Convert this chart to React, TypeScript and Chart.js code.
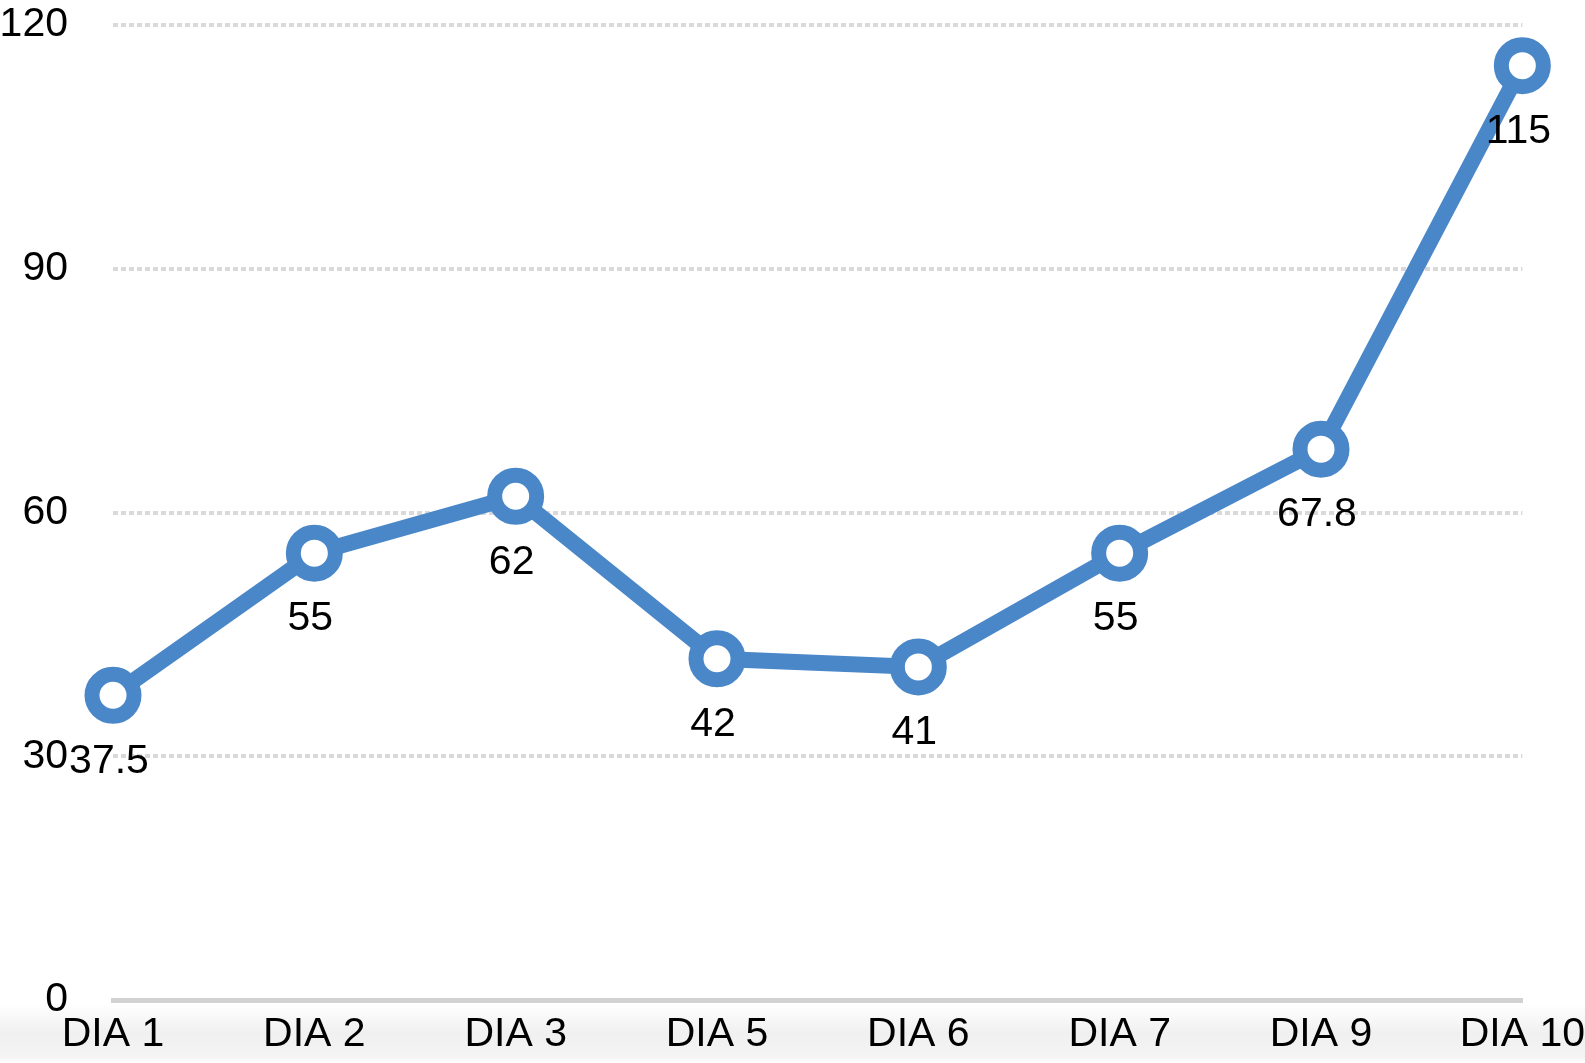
import React, { useEffect, useRef } from "react";
import { Chart, registerables } from "chart.js";

Chart.register(...registerables);

const categories = ["DIA 1", "DIA 2", "DIA 3", "DIA 5", "DIA 6", "DIA 7", "DIA 9", "DIA 10"];
const values = [37.5, 55, 62, 42, 41, 55, 67.8, 115];
const valueLabels = ["37.5", "55", "62", "42", "41", "55", "67.8", "115"];
const yTicks = [0, 30, 60, 90, 120];

const FONT = "'Liberation Sans', Arial, Helvetica, sans-serif";
const BLUE = "#4a87c9";
const CLEAR = "rgba(0,0,0,0)";

const dataLabelPlugin = {
  id: "dataLabels",
  afterDatasetsDraw(chart: any) {
    const ctx = chart.ctx;
    const meta = chart.getDatasetMeta(0);
    ctx.save();
    ctx.font = `41px ${FONT}`;
    ctx.fillStyle = "#000";
    ctx.textAlign = "center";
    ctx.textBaseline = "middle";
    meta.data.forEach((pt: any, i: number) => {
      ctx.fillText(valueLabels[i], pt.x - 4, pt.y + 66);
    });
    ctx.restore();
  },
};

const bgPlugin = {
  id: "bg",
  beforeDraw(chart: any) {
    const ctx = chart.ctx;
    const w = chart.width;
    const h = chart.height;
    ctx.save();
    ctx.fillStyle = "#ffffff";
    ctx.fillRect(0, 0, w, h);
    const g = ctx.createLinearGradient(0, 1003, 0, 1063);
    g.addColorStop(0, "rgba(240,240,240,0)");
    g.addColorStop(0.5, "rgba(240,240,240,1)");
    g.addColorStop(0.9, "rgba(244,244,244,1)");
    g.addColorStop(1, "rgba(255,255,255,1)");
    ctx.fillStyle = g;
    ctx.fillRect(0, 1003, w, 60);
    ctx.restore();
  },
};

export default function App() {
  const ref = useRef<HTMLCanvasElement | null>(null);

  useEffect(() => {
    if (!ref.current) return;
    const chart = new Chart(ref.current, {
      type: "line",
      data: {
        labels: categories,
        datasets: [
          {
            data: values,
            borderColor: BLUE,
            borderWidth: 16,
            pointRadius: 21,
            pointBorderWidth: 15,
            pointBackgroundColor: "#ffffff",
            pointBorderColor: BLUE,
            tension: 0,
            clip: false as any,
          },
        ],
      },
      options: {
        animation: false,
        responsive: true,
        maintainAspectRatio: false,
        layout: { autoPadding: false, padding: { top: 25, right: 61, bottom: 0, left: 0 } },
        plugins: {
          legend: { display: false },
          tooltip: { enabled: false },
        },
        scales: {
          x: {
            offset: false,
            grid: {
              display: true,
              drawOnChartArea: false,
              drawTicks: true,
              tickLength: 10,
              tickColor: CLEAR,
              color: CLEAR,
            },
            border: { display: true, color: "#d2d2d2", width: 5 },
            ticks: {
              color: "#000",
              font: { family: FONT, size: 41 },
              padding: 0,
              maxRotation: 0,
              autoSkip: false,
            },
            afterFit: (scale: any) => {
              scale.height = 63;
            },
          },
          y: {
            min: 0,
            max: 120,
            afterBuildTicks: (scale: any) => {
              scale.ticks = yTicks.map((v) => ({ value: v }));
            },
            grid: {
              color: (c: any) => (c.tick && c.tick.value === 0 ? CLEAR : "#d9d9d9"),
              lineWidth: 4,
              drawTicks: true,
              tickLength: 45,
              tickColor: CLEAR,
            },
            border: { display: false, dash: [5, 3] },
            ticks: {
              color: "#000",
              font: { family: FONT, size: 41 },
              padding: 0,
            },
            afterFit: (scale: any) => {
              scale.width = 113;
            },
          },
        },
      },
      plugins: [bgPlugin, dataLabelPlugin],
    } as any);
    return () => chart.destroy();
  }, []);

  return (
    <div style={{ position: "fixed", left: 0, top: 0, width: 1585, height: 1063, background: "#fff" }}>
      <canvas ref={ref} />
    </div>
  );
}
